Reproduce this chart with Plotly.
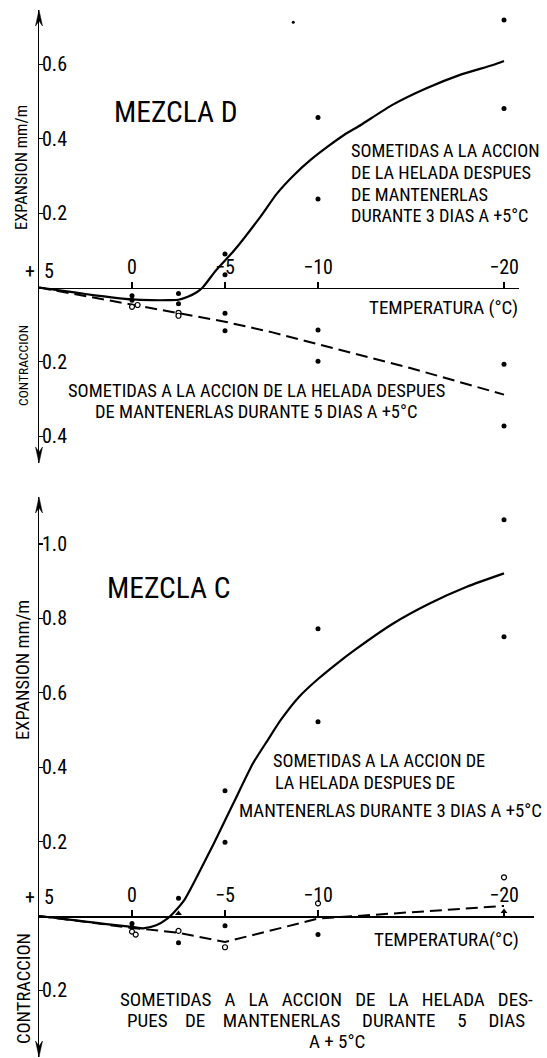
import plotly.graph_objects as go

# ---------------- data : MEZCLA D (upper panel) ----------------
# solid curve: 3 days at +5 C before frost
d_solid_T = [5, 4, 3, 2, 1, 0, -1, -2, -2.5, -3, -3.5, -3.8, -4.5, -5.5, -6.9, -7.8,
             -8.7, -9.6, -10.5, -11.4, -12.3, -14.0, -15.8, -17.6, -19.4, -20.0]
d_solid_v = [0, -0.007, -0.014, -0.021, -0.027, -0.032, -0.034, -0.034, -0.033, -0.025,
             -0.012, 0.0, 0.045, 0.10, 0.19, 0.253, 0.302, 0.343, 0.378, 0.41, 0.437,
             0.491, 0.535, 0.571, 0.598, 0.609]
# dashed curve: 5 days at +5 C before frost
d_dash_T = [5, 0, -2.5, -5, -7.5, -10, -15, -20]
d_dash_v = [0, -0.047, -0.069, -0.092, -0.12, -0.153, -0.217, -0.288]
# measured points
d_dot_T = [0, 0, -2.5, -2.5, -5, -5, -5, -5, -10, -10, -10, -10, -20, -20, -20, -20]
d_dot_v = [-0.022, -0.034, -0.016, -0.044, 0.09, 0.034, -0.069, -0.116,
           0.457, 0.238, -0.114, -0.198, 0.719, 0.481, -0.206, -0.372]
d_ring_T = [0, -0.3, -2.5, -2.5]
d_ring_v = [-0.052, -0.047, -0.068, -0.076]
d_speck_T = [-8.67]
d_speck_v = [0.713]

# ---------------- data : MEZCLA C (lower panel) ----------------
c_solid_T = [5, 4, 3, 2, 1, 0, -0.6, -1.3, -1.9, -2.2, -2.8, -3.4, -4.4, -5.45, -6.5,
             -7.3, -8.0, -9.0, -10.0, -11.0, -12.0, -14.0, -16.0, -18.0, -20.0]
c_solid_v = [0, -0.006, -0.012, -0.018, -0.024, -0.029, -0.033, -0.025, -0.007, 0.007,
             0.042, 0.097, 0.195, 0.303, 0.41, 0.473, 0.527, 0.59, 0.637, 0.678, 0.716,
             0.785, 0.84, 0.885, 0.921]
c_dash_T = [5, 0, -2.5, -5, -10, -20]
c_dash_v = [0, -0.032, -0.045, -0.07, -0.007, 0.027]
c_dot_T = [0, 0, -2.5, -2.5, -5, -5, -5, -10, -10, -10, -20, -20]
c_dot_v = [-0.02, -0.03, 0.048, -0.072, 0.337, 0.198, -0.026, 0.772, 0.522, -0.05, 1.065, 0.751]
c_ring_T = [0, -0.2, -2.5, -5, -10, -20]
c_ring_v = [-0.042, -0.05, -0.04, -0.084, 0.034, 0.104]
c_tri_T = [-2.5, -20]
c_tri_v = [0.007, 0.012]

# ---------------- tick labels ----------------
x_tick_vals = [0, -5, -10, -20]
x_tick_text = ["0", "\u22125", "\u221210", "\u221220"]
x_origin_label = "+  5"
d_ytick_vals = [0.6, 0.4, 0.2, -0.2, -0.4]
d_ytick_text = ["0.6", "0.4", "0.2", "0.2", "0.4"]
c_ytick_vals = [1.0, 0.8, 0.6, 0.4, 0.2, -0.2]
c_ytick_text = ["1.0", "0.8", "0.6", "0.4", "0.2", "0.2"]

# ---------------- layout constants ----------------
W, H = 547, 1058
ML = 39
PLOT_W = W - ML
PX_DEG = 18.6
PX_UNIT = 372.0
FONT = "Roboto Condensed, DejaVu Sans Condensed, DejaVu Sans, sans-serif"
INK = "black"

# panel geometry (pixel rows of the arrow tips)
top_px = {"d": (10, 463), "c": (497, 1057)}
zero_px = {"d": 287.5, "c": 916.0}
x_end = {"d": -20.8, "c": -21.6}


def yrange(key):
    t, b = top_px[key]
    z = zero_px[key]
    return [-(b - z) / PX_UNIT, (z - t) / PX_UNIT]


def ydomain(key):
    t, b = top_px[key]
    return [1 - b / H, 1 - t / H]


def xdomain(key):
    return [0, (5 - x_end[key]) * PX_DEG / PLOT_W]


def zero_pos(key):
    r = yrange(key)
    d = ydomain(key)
    return d[0] + (0 - r[0]) / (r[1] - r[0]) * (d[1] - d[0])


fig = go.Figure()


def add_panel(xa, ya, sT, sv, dT, dv, dotT, dotv, ringT, ringv):
    fig.add_trace(go.Scatter(x=dT, y=dv, mode="lines", xaxis=xa, yaxis=ya,
                             line=dict(color=INK, width=2, dash="12px,6px"),
                             hoverinfo="skip", showlegend=False))
    fig.add_trace(go.Scatter(x=sT, y=sv, mode="lines", xaxis=xa, yaxis=ya,
                             line=dict(color=INK, width=2.2, shape="spline", smoothing=0.6),
                             hoverinfo="skip", showlegend=False))
    fig.add_trace(go.Scatter(x=dotT, y=dotv, mode="markers", xaxis=xa, yaxis=ya,
                             marker=dict(color=INK, size=5, symbol="circle"),
                             hoverinfo="skip", showlegend=False))
    fig.add_trace(go.Scatter(x=ringT, y=ringv, mode="markers", xaxis=xa, yaxis=ya,
                             marker=dict(color="white", size=5, symbol="circle",
                                         line=dict(color=INK, width=1.2)),
                             hoverinfo="skip", showlegend=False))


add_panel("x", "y", d_solid_T, d_solid_v, d_dash_T, d_dash_v, d_dot_T, d_dot_v, d_ring_T, d_ring_v)
fig.add_trace(go.Scatter(x=d_speck_T, y=d_speck_v, mode="markers", xaxis="x", yaxis="y",
                         marker=dict(color=INK, size=3), hoverinfo="skip", showlegend=False))
add_panel("x2", "y2", c_solid_T, c_solid_v, c_dash_T, c_dash_v, c_dot_T, c_dot_v, c_ring_T, c_ring_v)
fig.add_trace(go.Scatter(x=c_tri_T, y=c_tri_v, mode="markers", xaxis="x2", yaxis="y2",
                         marker=dict(color=INK, size=6, symbol="triangle-up"),
                         hoverinfo="skip", showlegend=False))

tickfont = dict(family=FONT, size=20, color=INK)


def xaxis_cfg(key):
    return dict(domain=xdomain(key), range=[5, x_end[key]], anchor="free",
                position=zero_pos(key), side="top", showline=True, linecolor=INK,
                linewidth=1.5, ticks="outside", ticklen=6, tickwidth=1.2, tickcolor=INK,
                tickvals=x_tick_vals, ticktext=x_tick_text, tickfont=tickfont,
                showgrid=False, zeroline=False, fixedrange=True)


def yaxis_cfg(key, xa, vals, text):
    return dict(domain=ydomain(key), range=yrange(key), anchor=xa, side="left",
                showline=True, linecolor=INK, linewidth=1.5, ticks="inside", ticklen=4,
                tickwidth=1.2, tickcolor=INK, ticklabelposition="inside",
                tickvals=vals, ticktext=text, tickfont=tickfont,
                showgrid=False, zeroline=False, fixedrange=True)


fig.update_layout(
    width=W, height=H,
    margin=dict(l=ML, r=0, t=0, b=0),
    paper_bgcolor="white", plot_bgcolor="white",
    showlegend=False,
    xaxis=xaxis_cfg("d"),
    yaxis=yaxis_cfg("d", "x", d_ytick_vals, d_ytick_text),
    xaxis2=xaxis_cfg("c"),
    yaxis2=yaxis_cfg("c", "x2", c_ytick_vals, c_ytick_text),
)

# arrow heads on the vertical axes (pixel-sized paths anchored at the axis ends)
UP = "M0,0 L-3.5,-16 L0,-11 L3.5,-16 Z"
DOWN = "M0,0 L-3.5,16 L0,11 L3.5,16 Z"
shapes = []
for key in ("d", "c"):
    dom = ydomain(key)
    shapes.append(dict(type="path", xref="paper", yref="paper", xsizemode="pixel",
                       ysizemode="pixel", xanchor=0, yanchor=dom[1], path=UP,
                       fillcolor=INK, line=dict(color=INK, width=0.5)))
    shapes.append(dict(type="path", xref="paper", yref="paper", xsizemode="pixel",
                       ysizemode="pixel", xanchor=0, yanchor=dom[0], path=DOWN,
                       fillcolor=INK, line=dict(color=INK, width=0.5)))
fig.update_layout(shapes=shapes)


def note(text, x, y, xref, yref, size, xanchor="left", angle=0):
    fig.add_annotation(text=text, x=x, y=y, xref=xref, yref=yref, showarrow=False,
                       xanchor=xanchor, yanchor="middle", textangle=angle, borderpad=0,
                       font=dict(family=FONT, size=size, color=INK))


# ---- upper panel texts ----
note(x_origin_label, 5, 0.045, "x", "y", 20, "center")
note("MEZCLA D", -2.37, 0.472, "x", "y", 29.5, "center")
note("SOMETIDAS A LA ACCION", -11.72, 0.368, "x", "y", 18.3)
note("DE LA HELADA DESPUES", -11.72, 0.309, "x", "y", 18.3)
note("DE MANTENERLAS", -11.72, 0.25, "x", "y", 18.3)
note("DURANTE 3 DIAS A +5°C", -11.72, 0.193, "x", "y", 18.3)
note("TEMPERATURA (°C)", -20.8, -0.055, "x", "y", 19, "right")
note("SOMETIDAS A LA ACCION DE LA HELADA DESPUES", -6.67, -0.278, "x", "y", 18.5, "center")
note("DE MANTENERLAS DURANTE 5 DIAS A +5°C", -6.67, -0.334, "x", "y", 18.5, "center")
note("EXPANSION mm/m", -17 / PLOT_W, 1 - 168 / H, "paper", "paper", 16.5, "center", -90)
note("CONTRACCION", -16 / PLOT_W, 1 - 366 / H, "paper", "paper", 13.5, "center", -90)

# ---- lower panel texts ----
note(x_origin_label, 5, 0.051, "x2", "y2", 20, "center")
note("MEZCLA C", -1.99, 0.883, "x2", "y2", 29.5, "center")
note("SOMETIDAS A LA ACCION DE", -7.53, 0.417, "x2", "y2", 18.3)
note("LA HELADA DESPUES DE", -7.63, 0.360, "x2", "y2", 18.3)
note("MANTENERLAS DURANTE 3 DIAS A +5°C", -5.70, 0.282, "x2", "y2", 18.8)
note("TEMPERATURA(°C)", -20.86, -0.062, "x2", "y2", 19, "right")
note("SOMETIDAS   A   LA   ACCION   DE   LA   HELADA   DES-", -10.43, -0.224, "x2", "y2", 19, "center")
note("PUES    DE    MANTENERLAS     DURANTE     5     DIAS", -10.43, -0.2805, "x2", "y2", 19, "center")
note("A + 5°C", -11.0, -0.337, "x2", "y2", 19, "center")
note("EXPANSION mm/m", -16 / PLOT_W, 1 - 670 / H, "paper", "paper", 18.5, "center", -90)
note("CONTRACCION", -15 / PLOT_W, 1 - 989 / H, "paper", "paper", 18.5, "center", -90)

fig.write_html("out.html", config={"displayModeBar": False, "staticPlot": True},
               post_script="document.body.style.margin='0';document.body.style.overflow='hidden';")
